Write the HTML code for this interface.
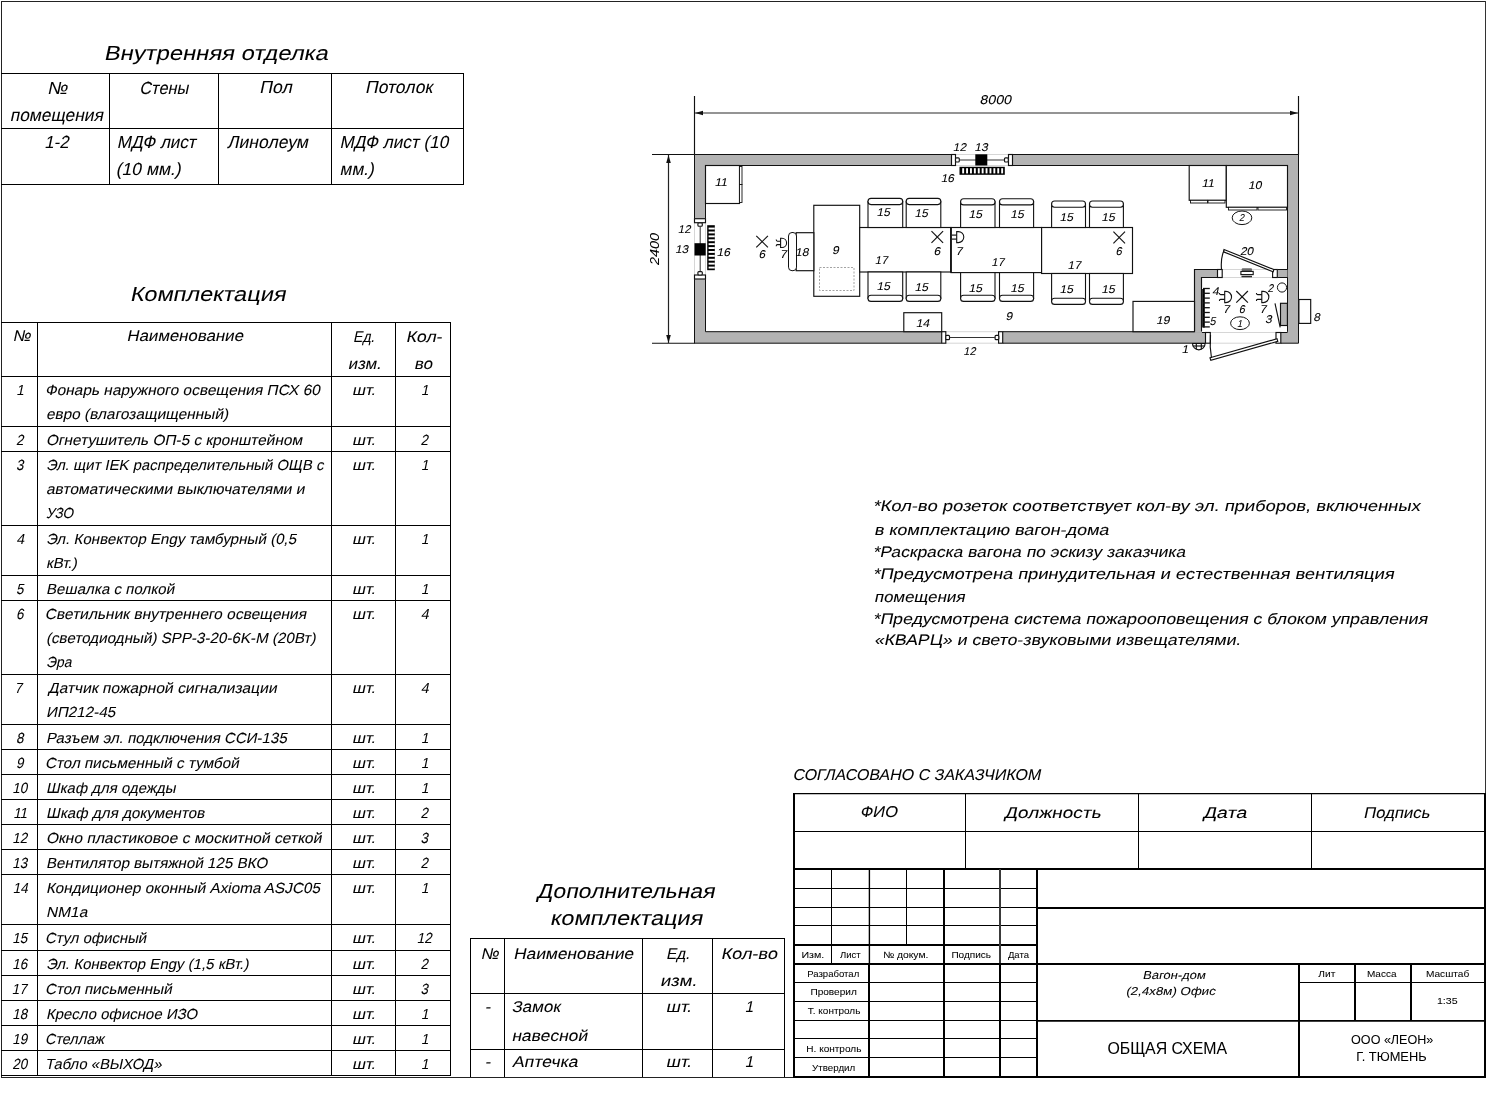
<!DOCTYPE html><html><head><meta charset="utf-8"><style>html,body{margin:0;padding:0;background:#fff;width:1487px;height:1109px;overflow:hidden}svg{display:block;will-change:transform}text{font-family:"Liberation Sans",sans-serif}</style></head><body>
<svg width="1487" height="1109" viewBox="0 0 1487 1109" shape-rendering="crispEdges">
<g shape-rendering="auto"><line x1="1" y1="1.5" x2="1486" y2="1.5" stroke="#222" stroke-width="1"/>
<line x1="1.5" y1="1" x2="1.5" y2="1078" stroke="#222" stroke-width="1"/>
<line x1="1485.5" y1="1" x2="1485.5" y2="794" stroke="#333" stroke-width="1"/>
<line x1="1485.0" y1="793" x2="1485.0" y2="1078" stroke="#000" stroke-width="2"/>
<line x1="1" y1="1077.5" x2="1486" y2="1077.5" stroke="#222" stroke-width="1"/>
<line x1="1" y1="73.5" x2="464" y2="73.5" stroke="#000" stroke-width="1"/>
<line x1="1" y1="128.5" x2="464" y2="128.5" stroke="#000" stroke-width="1"/>
<line x1="1" y1="184.5" x2="464" y2="184.5" stroke="#000" stroke-width="1"/>
<line x1="109.5" y1="73" x2="109.5" y2="185" stroke="#000" stroke-width="1"/>
<line x1="218.5" y1="73" x2="218.5" y2="185" stroke="#000" stroke-width="1"/>
<line x1="331.5" y1="73" x2="331.5" y2="185" stroke="#000" stroke-width="1"/>
<line x1="463.5" y1="73" x2="463.5" y2="185" stroke="#000" stroke-width="1"/>
<line x1="1" y1="322.5" x2="451" y2="322.5" stroke="#000" stroke-width="1"/>
<line x1="1" y1="376.5" x2="451" y2="376.5" stroke="#000" stroke-width="1"/>
<line x1="1" y1="426.5" x2="451" y2="426.5" stroke="#000" stroke-width="1"/>
<line x1="1" y1="451.5" x2="451" y2="451.5" stroke="#000" stroke-width="1"/>
<line x1="1" y1="525.5" x2="451" y2="525.5" stroke="#000" stroke-width="1"/>
<line x1="1" y1="575.5" x2="451" y2="575.5" stroke="#000" stroke-width="1"/>
<line x1="1" y1="600.5" x2="451" y2="600.5" stroke="#000" stroke-width="1"/>
<line x1="1" y1="674.5" x2="451" y2="674.5" stroke="#000" stroke-width="1"/>
<line x1="1" y1="724.5" x2="451" y2="724.5" stroke="#000" stroke-width="1"/>
<line x1="1" y1="749.5" x2="451" y2="749.5" stroke="#000" stroke-width="1"/>
<line x1="1" y1="774.5" x2="451" y2="774.5" stroke="#000" stroke-width="1"/>
<line x1="1" y1="799.5" x2="451" y2="799.5" stroke="#000" stroke-width="1"/>
<line x1="1" y1="824.5" x2="451" y2="824.5" stroke="#000" stroke-width="1"/>
<line x1="1" y1="849.5" x2="451" y2="849.5" stroke="#000" stroke-width="1"/>
<line x1="1" y1="874.5" x2="451" y2="874.5" stroke="#000" stroke-width="1"/>
<line x1="1" y1="924.5" x2="451" y2="924.5" stroke="#000" stroke-width="1"/>
<line x1="1" y1="950.5" x2="451" y2="950.5" stroke="#000" stroke-width="1"/>
<line x1="1" y1="975.5" x2="451" y2="975.5" stroke="#000" stroke-width="1"/>
<line x1="1" y1="1000.5" x2="451" y2="1000.5" stroke="#000" stroke-width="1"/>
<line x1="1" y1="1025.5" x2="451" y2="1025.5" stroke="#000" stroke-width="1"/>
<line x1="1" y1="1050.5" x2="451" y2="1050.5" stroke="#000" stroke-width="1"/>
<line x1="1" y1="1075.5" x2="451" y2="1075.5" stroke="#000" stroke-width="1"/>
<line x1="37.5" y1="322" x2="37.5" y2="1076" stroke="#000" stroke-width="1"/>
<line x1="331.5" y1="322" x2="331.5" y2="1076" stroke="#000" stroke-width="1"/>
<line x1="395.5" y1="322" x2="395.5" y2="1076" stroke="#000" stroke-width="1"/>
<line x1="450.5" y1="322" x2="450.5" y2="1076" stroke="#000" stroke-width="1"/>
<line x1="470" y1="938.5" x2="785" y2="938.5" stroke="#000" stroke-width="1"/>
<line x1="470" y1="993.5" x2="785" y2="993.5" stroke="#000" stroke-width="1"/>
<line x1="470" y1="1049.5" x2="785" y2="1049.5" stroke="#000" stroke-width="1"/>
<line x1="470.5" y1="938" x2="470.5" y2="1077" stroke="#000" stroke-width="1"/>
<line x1="504.5" y1="938" x2="504.5" y2="1077" stroke="#000" stroke-width="1"/>
<line x1="642.5" y1="938" x2="642.5" y2="1077" stroke="#000" stroke-width="1"/>
<line x1="712.5" y1="938" x2="712.5" y2="1077" stroke="#000" stroke-width="1"/>
<line x1="784.5" y1="938" x2="784.5" y2="1077" stroke="#000" stroke-width="1"/>
<line x1="793" y1="793.6" x2="1486" y2="793.6" stroke="#000" stroke-width="1.2"/>
<line x1="793" y1="831.5" x2="1486" y2="831.5" stroke="#000" stroke-width="1"/>
<line x1="793" y1="869.0" x2="1486" y2="869.0" stroke="#000" stroke-width="2"/>
<line x1="965.5" y1="793" x2="965.5" y2="869" stroke="#000" stroke-width="1"/>
<line x1="1138.5" y1="793" x2="1138.5" y2="869" stroke="#000" stroke-width="1"/>
<line x1="1311.5" y1="793" x2="1311.5" y2="869" stroke="#000" stroke-width="1"/>
<line x1="794.0" y1="793" x2="794.0" y2="1078" stroke="#000" stroke-width="2"/>
<line x1="793" y1="888.5" x2="1037" y2="888.5" stroke="#000" stroke-width="1"/>
<line x1="793" y1="907.5" x2="1037" y2="907.5" stroke="#000" stroke-width="1"/>
<line x1="793" y1="925.5" x2="1037" y2="925.5" stroke="#000" stroke-width="1"/>
<line x1="793" y1="945.0" x2="1037" y2="945.0" stroke="#000" stroke-width="2"/>
<line x1="793" y1="964.0" x2="1037" y2="964.0" stroke="#000" stroke-width="2"/>
<line x1="793" y1="982.5" x2="1037" y2="982.5" stroke="#000" stroke-width="1"/>
<line x1="793" y1="1001.5" x2="1037" y2="1001.5" stroke="#000" stroke-width="1"/>
<line x1="793" y1="1020.5" x2="1037" y2="1020.5" stroke="#000" stroke-width="1"/>
<line x1="793" y1="1038.5" x2="1037" y2="1038.5" stroke="#000" stroke-width="1"/>
<line x1="793" y1="1057.5" x2="1037" y2="1057.5" stroke="#000" stroke-width="1"/>
<line x1="831.5" y1="869" x2="831.5" y2="963" stroke="#000" stroke-width="1"/>
<line x1="869.4000000000001" y1="869" x2="869.4000000000001" y2="964" stroke="#000" stroke-width="1.4"/>
<line x1="869.0" y1="963" x2="869.0" y2="1077" stroke="#000" stroke-width="2"/>
<line x1="906.5" y1="869" x2="906.5" y2="945" stroke="#000" stroke-width="1"/>
<line x1="944.0" y1="869" x2="944.0" y2="1077" stroke="#000" stroke-width="2"/>
<line x1="1000.0" y1="869" x2="1000.0" y2="964" stroke="#3a3a3a" stroke-width="2"/>
<line x1="1000.0" y1="963" x2="1000.0" y2="1077" stroke="#000" stroke-width="2"/>
<line x1="1037.0" y1="869" x2="1037.0" y2="1077" stroke="#000" stroke-width="2"/>
<line x1="793" y1="1077.0" x2="1486" y2="1077.0" stroke="#000" stroke-width="2"/>
<line x1="1036" y1="908.0" x2="1486" y2="908.0" stroke="#000" stroke-width="2"/>
<line x1="1036" y1="964.0" x2="1486" y2="964.0" stroke="#000" stroke-width="2"/>
<line x1="1036" y1="1020.85" x2="1486" y2="1020.85" stroke="#000" stroke-width="1.7"/>
<line x1="1299.0" y1="963" x2="1299.0" y2="1077" stroke="#000" stroke-width="2"/>
<line x1="1355.0" y1="963" x2="1355.0" y2="1020" stroke="#000" stroke-width="2"/>
<line x1="1411.0" y1="963" x2="1411.0" y2="1020" stroke="#000" stroke-width="2"/>
<line x1="1298" y1="982.5" x2="1486" y2="982.5" stroke="#000" stroke-width="1"/>
<line x1="694.5" y1="96" x2="694.5" y2="155" stroke="#111" stroke-width="1.15"/>
<line x1="1298.5" y1="96" x2="1298.5" y2="155" stroke="#111" stroke-width="1.15"/>
<line x1="695" y1="113" x2="1298" y2="113" stroke="#707070" stroke-width="1.6"/>
<path d="M695,113 L703,110.7 L703,115.3 Z" fill="#111" stroke="none" stroke-width="1" />
<path d="M1298,113 L1290,110.7 L1290,115.3 Z" fill="#111" stroke="none" stroke-width="1" />
<line x1="652" y1="154.5" x2="695" y2="154.5" stroke="#111" stroke-width="1.15"/>
<line x1="652" y1="343.2" x2="695" y2="343.2" stroke="#111" stroke-width="1.15"/>
<line x1="668.5" y1="155" x2="668.5" y2="343" stroke="#222" stroke-width="1.2"/>
<path d="M668.5,155 L666.2,163 L670.8,163 Z" fill="#111" stroke="none" stroke-width="1" />
<path d="M668.5,343 L666.2,335 L670.8,335 Z" fill="#111" stroke="none" stroke-width="1" />
<text x="0" y="0" font-size="13.4" style="font-style:italic" stroke="#000" stroke-width="0.06" transform="translate(659.3,248.9) rotate(-90)" text-anchor="middle" textLength="32" lengthAdjust="spacingAndGlyphs">2400</text>
<path d="M694.5,154.5 H1298.5 V343.2 H694.5 Z M705.5,165.5 H1287.5 V331.7 H705.5 Z" fill="#b3b3b3" stroke="#111" stroke-width="1" fill-rule="evenodd"/>
<rect x="1194.5" y="269.5" width="93" height="8" fill="#b3b3b3" stroke="none" stroke-width="1" />
<rect x="1194.5" y="269.5" width="7" height="63" fill="#b3b3b3" stroke="none" stroke-width="1" />
<path d="M1194.5,331.7 V269.5 H1287.5" fill="none" stroke="#111" stroke-width="1.15" />
<path d="M1201.5,331.7 V277.5 H1287.5" fill="none" stroke="#111" stroke-width="1.15" />
<rect x="1202" y="331" width="85" height="1.2" fill="#fff" stroke="none" stroke-width="1" />
<rect x="1194" y="331" width="7.5" height="1.5" fill="#b3b3b3" stroke="none" stroke-width="1" />
<line x1="1202" y1="332.5" x2="1287.5" y2="332.5" stroke="#111" stroke-width="1.15"/>
<rect x="951" y="153" width="62" height="13.5" fill="#fff" stroke="none" stroke-width="1" />
<line x1="955" y1="154.5" x2="1009" y2="154.5" stroke="#bbb" stroke-width="0.6"/>
<line x1="955" y1="165.5" x2="1009" y2="165.5" stroke="#bbb" stroke-width="0.6"/>
<rect x="951.5" y="154.5" width="4" height="11" fill="#fff" stroke="#111" stroke-width="1.15" />
<rect x="1008.5" y="154.5" width="4" height="11" fill="#fff" stroke="#111" stroke-width="1.15" />
<rect x="955.5" y="157.8" width="3.8" height="4.2" fill="#fff" stroke="#111" stroke-width="1.15" rx="1"/>
<rect x="1004.5" y="157.8" width="3.8" height="4.2" fill="#fff" stroke="#111" stroke-width="1.15" rx="1"/>
<line x1="959.5" y1="160" x2="1004.5" y2="160" stroke="#333" stroke-width="1"/>
<rect x="975.3" y="154.3" width="12" height="11.2" fill="#000" stroke="none" stroke-width="1" />
<rect x="959.5" y="166.8" width="45.3" height="8" fill="#000" stroke="none" stroke-width="1" />
<rect x="962.2" y="168.2" width="1.9" height="5.2" fill="#fff" stroke="none" stroke-width="1" />
<rect x="966.1" y="168.2" width="1.9" height="5.2" fill="#fff" stroke="none" stroke-width="1" />
<rect x="970.0" y="168.2" width="1.9" height="5.2" fill="#fff" stroke="none" stroke-width="1" />
<rect x="973.9000000000001" y="168.2" width="1.9" height="5.2" fill="#fff" stroke="none" stroke-width="1" />
<rect x="977.8000000000001" y="168.2" width="1.9" height="5.2" fill="#fff" stroke="none" stroke-width="1" />
<rect x="981.7" y="168.2" width="1.9" height="5.2" fill="#fff" stroke="none" stroke-width="1" />
<rect x="985.6" y="168.2" width="1.9" height="5.2" fill="#fff" stroke="none" stroke-width="1" />
<rect x="989.5" y="168.2" width="1.9" height="5.2" fill="#fff" stroke="none" stroke-width="1" />
<rect x="993.4000000000001" y="168.2" width="1.9" height="5.2" fill="#fff" stroke="none" stroke-width="1" />
<rect x="997.3000000000001" y="168.2" width="1.9" height="5.2" fill="#fff" stroke="none" stroke-width="1" />
<rect x="1001.2" y="168.2" width="1.9" height="5.2" fill="#fff" stroke="none" stroke-width="1" />
<rect x="693" y="218.6" width="14" height="60.5" fill="#fff" stroke="none" stroke-width="1" />
<line x1="694.5" y1="222" x2="694.5" y2="276" stroke="#bbb" stroke-width="0.6"/>
<line x1="705.5" y1="222" x2="705.5" y2="276" stroke="#bbb" stroke-width="0.6"/>
<rect x="694.5" y="218.7" width="11" height="4" fill="#fff" stroke="#111" stroke-width="1.15" />
<rect x="694.5" y="275" width="11" height="4" fill="#fff" stroke="#111" stroke-width="1.15" />
<rect x="697.9" y="222.8" width="4.4" height="3.4" fill="#fff" stroke="#111" stroke-width="1.15" rx="1"/>
<rect x="697.9" y="271.6" width="4.4" height="3.4" fill="#fff" stroke="#111" stroke-width="1.15" rx="1"/>
<line x1="700.2" y1="226.5" x2="700.2" y2="271.5" stroke="#333" stroke-width="1"/>
<rect x="694.5" y="243.2" width="11.2" height="12.3" fill="#000" stroke="none" stroke-width="1" />
<rect x="707.2" y="225.2" width="7.6" height="45" fill="#000" stroke="none" stroke-width="1" />
<rect x="708.6" y="227.6" width="6.2" height="1.9" fill="#fff" stroke="none" stroke-width="1" />
<rect x="708.6" y="231.5" width="6.2" height="1.9" fill="#fff" stroke="none" stroke-width="1" />
<rect x="708.6" y="235.4" width="6.2" height="1.9" fill="#fff" stroke="none" stroke-width="1" />
<rect x="708.6" y="239.29999999999998" width="6.2" height="1.9" fill="#fff" stroke="none" stroke-width="1" />
<rect x="708.6" y="243.2" width="6.2" height="1.9" fill="#fff" stroke="none" stroke-width="1" />
<rect x="708.6" y="247.1" width="6.2" height="1.9" fill="#fff" stroke="none" stroke-width="1" />
<rect x="708.6" y="251.0" width="6.2" height="1.9" fill="#fff" stroke="none" stroke-width="1" />
<rect x="708.6" y="254.9" width="6.2" height="1.9" fill="#fff" stroke="none" stroke-width="1" />
<rect x="708.6" y="258.8" width="6.2" height="1.9" fill="#fff" stroke="none" stroke-width="1" />
<rect x="708.6" y="262.7" width="6.2" height="1.9" fill="#fff" stroke="none" stroke-width="1" />
<rect x="708.6" y="266.6" width="6.2" height="1.9" fill="#fff" stroke="none" stroke-width="1" />
<rect x="941.5" y="331" width="61.5" height="13.5" fill="#fff" stroke="none" stroke-width="1" />
<line x1="945" y1="331.7" x2="999" y2="331.7" stroke="#bbb" stroke-width="0.6"/>
<line x1="945" y1="343.2" x2="999" y2="343.2" stroke="#bbb" stroke-width="0.6"/>
<rect x="941.7" y="331.7" width="4.1" height="11.5" fill="#fff" stroke="#111" stroke-width="1.15" />
<rect x="998.6" y="331.7" width="4.1" height="11.5" fill="#fff" stroke="#111" stroke-width="1.15" />
<rect x="945.8" y="335.3" width="3.7" height="4.4" fill="#fff" stroke="#111" stroke-width="1.15" rx="1"/>
<rect x="995.1" y="335.3" width="3.7" height="4.4" fill="#fff" stroke="#111" stroke-width="1.15" rx="1"/>
<line x1="949.5" y1="337.5" x2="995" y2="337.5" stroke="#333" stroke-width="1"/>
<rect x="1217.5" y="268.5" width="60" height="10" fill="#fff" stroke="none" stroke-width="1" />
<line x1="1222" y1="269.5" x2="1273" y2="269.5" stroke="#bbb" stroke-width="0.6"/>
<line x1="1222" y1="277.5" x2="1273" y2="277.5" stroke="#bbb" stroke-width="0.6"/>
<rect x="1217.5" y="269.5" width="4.7" height="8" fill="#fff" stroke="#111" stroke-width="1.15" />
<rect x="1272.6" y="269.5" width="4.7" height="8" fill="#fff" stroke="#111" stroke-width="1.15" />
<path d="M1224,249.5 L1273.8,269.5 L1273.2,271.8 L1223.5,251.8 Z" fill="#fff" stroke="#111" stroke-width="1.15" />
<path d="M1224,250.5 Q1220.5,258 1221.5,269.5" fill="none" stroke="#111" stroke-width="1.15" />
<rect x="1241.7" y="268.2" width="10.3" height="3" fill="#6a6a6a" stroke="none" stroke-width="1" rx="1"/>
<rect x="1240.9" y="271.4" width="12.3" height="3.2" fill="#fff" stroke="#111" stroke-width="1.1" />
<rect x="1241.5" y="275.8" width="10.5" height="1.5" fill="#2a2a2a" stroke="none" stroke-width="1" />
<rect x="1205.2" y="331" width="75.6" height="13.5" fill="#fff" stroke="none" stroke-width="1" />
<line x1="1210" y1="332.5" x2="1276" y2="332.5" stroke="#bbb" stroke-width="0.6"/>
<line x1="1210" y1="343.2" x2="1276" y2="343.2" stroke="#bbb" stroke-width="0.6"/>
<rect x="1205.5" y="332.5" width="4.8" height="10.7" fill="#fff" stroke="#111" stroke-width="1.15" />
<rect x="1276" y="332.5" width="4.8" height="10.7" fill="#fff" stroke="#111" stroke-width="1.15" />
<path d="M1210,357.8 L1277,338.8 L1277.8,341.3 L1210.8,360.2 Z" fill="#fff" stroke="#111" stroke-width="1.15" />
<path d="M1210.5,335 Q1209.5,347 1211.5,358" fill="none" stroke="#111" stroke-width="1.15" />
<path d="M1192.5,343.5 A6.3,6.3 0 0 0 1205.1,343.5 Z" fill="#fff" stroke="#111" stroke-width="1.15" />
<line x1="1196.3" y1="343.5" x2="1196.3" y2="349.2" stroke="#111" stroke-width="1.15"/>
<line x1="1201.3" y1="343.5" x2="1201.3" y2="349.2" stroke="#111" stroke-width="1.15"/>
<line x1="1192.8" y1="346" x2="1204.8" y2="346" stroke="#111" stroke-width="1.15"/>
<rect x="705.5" y="165.5" width="34" height="38" fill="#fff" stroke="#111" stroke-width="1.15" />
<rect x="739.5" y="166.5" width="2.5" height="18" fill="#fff" stroke="#111" stroke-width="0.9" />
<rect x="739.5" y="184.5" width="2.5" height="18" fill="#fff" stroke="#111" stroke-width="0.9" />
<rect x="813.8" y="205.3" width="45.9" height="91" fill="#fff" stroke="#111" stroke-width="1.15" />
<rect x="819.5" y="267.5" width="34.5" height="23" fill="none" stroke="#999" stroke-width="0.9" stroke-dasharray="2,1.5"/>
<rect x="796.2" y="232.7" width="17.6" height="38" fill="#fff" stroke="#111" stroke-width="1.15" />
<rect x="788.5" y="232.5" width="8" height="38.2" fill="#fff" stroke="#111" stroke-width="1" rx="3.5"/>
<rect x="859.7" y="227.5" width="91.3" height="44.5" fill="#fff" stroke="#111" stroke-width="1.15" />
<rect x="951" y="227.5" width="90.6" height="45.1" fill="#fff" stroke="#111" stroke-width="1.15" />
<rect x="1041.6" y="227.5" width="90.9" height="46" fill="#fff" stroke="#111" stroke-width="1.15" />
<line x1="951" y1="227.5" x2="951" y2="272.6" stroke="#111" stroke-width="1.6"/>
<rect x="868" y="201.4" width="34.700000000000045" height="26.099999999999994" fill="#fff" stroke="#111" stroke-width="1.1" />
<rect x="868" y="198.4" width="34.700000000000045" height="6.2" fill="#fff" stroke="#111" stroke-width="1.1" rx="3"/>
<rect x="906.2" y="201.4" width="34.59999999999991" height="26.099999999999994" fill="#fff" stroke="#111" stroke-width="1.1" />
<rect x="906.2" y="198.4" width="34.59999999999991" height="6.2" fill="#fff" stroke="#111" stroke-width="1.1" rx="3"/>
<rect x="960.6" y="201.7" width="34.39999999999998" height="25.80000000000001" fill="#fff" stroke="#111" stroke-width="1.1" />
<rect x="960.6" y="198.7" width="34.39999999999998" height="6.2" fill="#fff" stroke="#111" stroke-width="1.1" rx="3"/>
<rect x="999.5" y="201.7" width="34.09999999999991" height="25.80000000000001" fill="#fff" stroke="#111" stroke-width="1.1" />
<rect x="999.5" y="198.7" width="34.09999999999991" height="6.2" fill="#fff" stroke="#111" stroke-width="1.1" rx="3"/>
<rect x="1051.6" y="204" width="33.90000000000009" height="23.5" fill="#fff" stroke="#111" stroke-width="1.1" />
<rect x="1051.6" y="201" width="33.90000000000009" height="6.2" fill="#fff" stroke="#111" stroke-width="1.1" rx="3"/>
<rect x="1089.5" y="204" width="33.90000000000009" height="23.5" fill="#fff" stroke="#111" stroke-width="1.1" />
<rect x="1089.5" y="201" width="33.90000000000009" height="6.2" fill="#fff" stroke="#111" stroke-width="1.1" rx="3"/>
<rect x="868" y="272" width="34.700000000000045" height="26.399999999999977" fill="#fff" stroke="#111" stroke-width="1.1" />
<rect x="868" y="295.2" width="34.700000000000045" height="6.2" fill="#fff" stroke="#111" stroke-width="1.1" rx="3"/>
<rect x="906.2" y="272" width="34.59999999999991" height="26.399999999999977" fill="#fff" stroke="#111" stroke-width="1.1" />
<rect x="906.2" y="295.2" width="34.59999999999991" height="6.2" fill="#fff" stroke="#111" stroke-width="1.1" rx="3"/>
<rect x="960.6" y="272.6" width="34.39999999999998" height="25.799999999999955" fill="#fff" stroke="#111" stroke-width="1.1" />
<rect x="960.6" y="295.2" width="34.39999999999998" height="6.2" fill="#fff" stroke="#111" stroke-width="1.1" rx="3"/>
<rect x="999.5" y="272.6" width="34.09999999999991" height="25.799999999999955" fill="#fff" stroke="#111" stroke-width="1.1" />
<rect x="999.5" y="295.2" width="34.09999999999991" height="6.2" fill="#fff" stroke="#111" stroke-width="1.1" rx="3"/>
<rect x="1051.6" y="273.5" width="33.90000000000009" height="27.899999999999977" fill="#fff" stroke="#111" stroke-width="1.1" />
<rect x="1051.6" y="298.2" width="33.90000000000009" height="6.2" fill="#fff" stroke="#111" stroke-width="1.1" rx="3"/>
<rect x="1089.5" y="273.5" width="33.90000000000009" height="27.899999999999977" fill="#fff" stroke="#111" stroke-width="1.1" />
<rect x="1089.5" y="298.2" width="33.90000000000009" height="6.2" fill="#fff" stroke="#111" stroke-width="1.1" rx="3"/>
<rect x="903.8" y="312.7" width="37.9" height="19" fill="#fff" stroke="#111" stroke-width="1.15" />
<rect x="1133" y="301.4" width="61.5" height="30.3" fill="#fff" stroke="#111" stroke-width="1.15" />
<rect x="1189.2" y="165.5" width="37.1" height="34.8" fill="#fff" stroke="#111" stroke-width="1.15" />
<rect x="1190.5" y="200.3" width="17" height="2.7" fill="#fff" stroke="#111" stroke-width="0.9" />
<rect x="1208" y="200.3" width="17" height="2.7" fill="#fff" stroke="#111" stroke-width="0.9" />
<rect x="1226.3" y="165.5" width="61.2" height="41.8" fill="#fff" stroke="#111" stroke-width="1.15" />
<rect x="1228.5" y="207.3" width="28.5" height="2.7" fill="#fff" stroke="#111" stroke-width="0.9" />
<rect x="1258" y="207.3" width="28.5" height="2.7" fill="#fff" stroke="#111" stroke-width="0.9" />
<ellipse cx="1242" cy="217.8" rx="9.8" ry="6.8" fill="none" stroke="#111" stroke-width="1"/>
<line x1="756.3000000000001" y1="235.79999999999998" x2="767.9" y2="247.4" stroke="#111" stroke-width="1.15"/>
<line x1="756.3000000000001" y1="247.4" x2="767.9" y2="235.79999999999998" stroke="#111" stroke-width="1.15"/>
<line x1="931.5" y1="231.2" x2="943.0999999999999" y2="242.8" stroke="#111" stroke-width="1.15"/>
<line x1="931.5" y1="242.8" x2="943.0999999999999" y2="231.2" stroke="#111" stroke-width="1.15"/>
<line x1="1113.4" y1="231.7" x2="1125.0" y2="243.3" stroke="#111" stroke-width="1.15"/>
<line x1="1113.4" y1="243.3" x2="1125.0" y2="231.7" stroke="#111" stroke-width="1.15"/>
<line x1="1236.3" y1="291.0" x2="1247.8999999999999" y2="302.6" stroke="#111" stroke-width="1.15"/>
<line x1="1236.3" y1="302.6" x2="1247.8999999999999" y2="291.0" stroke="#111" stroke-width="1.15"/>
<path d="M780.6,238.3 H782.0 A4.6,4.6 0 0 1 782.0,247.5 H780.6 Z" fill="#fff" stroke="#111" stroke-width="1.1" />
<path d="M780.6,241.20000000000002 H777.4000000000001 Q776.2,241.20000000000002 776.2,239.60000000000002" fill="none" stroke="#111" stroke-width="1.1" />
<path d="M780.6,244.6 H777.4000000000001 Q776.2,244.6 776.2,246.2" fill="none" stroke="#111" stroke-width="1.1" />
<path d="M956.7,231.6 H958.3000000000001 A5.5,5.5 0 0 1 958.3000000000001,242.6 H956.7 Z" fill="#fff" stroke="#111" stroke-width="1.1" />
<line x1="951.9000000000001" y1="235.1" x2="956.7" y2="235.1" stroke="#111" stroke-width="1.15"/>
<line x1="951.9000000000001" y1="239.1" x2="956.7" y2="239.1" stroke="#111" stroke-width="1.15"/>
<path d="M1224.7,291.35 H1225.9 A5.65,5.65 0 0 1 1225.9,302.65 H1224.7 Z" fill="#fff" stroke="#111" stroke-width="1.1" />
<path d="M1224.7,294.6 H1220.6000000000001 Q1219.4,294.6 1219.4,293.0" fill="none" stroke="#111" stroke-width="1.1" />
<path d="M1224.7,299.4 H1220.6000000000001 Q1219.4,299.4 1219.4,301.0" fill="none" stroke="#111" stroke-width="1.1" />
<path d="M1261.8,291.35 H1263.2 A5.65,5.65 0 0 1 1263.2,302.65 H1261.8 Z" fill="#fff" stroke="#111" stroke-width="1.1" />
<path d="M1261.8,294.6 H1257.6 Q1256.3999999999999,294.6 1256.3999999999999,293.0" fill="none" stroke="#111" stroke-width="1.1" />
<path d="M1261.8,299.4 H1257.6 Q1256.3999999999999,299.4 1256.3999999999999,301.0" fill="none" stroke="#111" stroke-width="1.1" />
<rect x="1202.3" y="287.5" width="7.6" height="41" fill="#fff" stroke="none" stroke-width="1" />
<rect x="1202.2" y="289" width="2.6" height="38.5" fill="#000" stroke="none" stroke-width="1" />
<line x1="1203" y1="288.5" x2="1209.8" y2="288.5" stroke="#111" stroke-width="1.3"/>
<line x1="1203" y1="293.3" x2="1209.8" y2="293.3" stroke="#111" stroke-width="1.3"/>
<line x1="1203" y1="298.1" x2="1209.8" y2="298.1" stroke="#111" stroke-width="1.3"/>
<line x1="1203" y1="302.9" x2="1209.8" y2="302.9" stroke="#111" stroke-width="1.3"/>
<line x1="1203" y1="307.7" x2="1209.8" y2="307.7" stroke="#111" stroke-width="1.3"/>
<line x1="1203" y1="312.5" x2="1209.8" y2="312.5" stroke="#111" stroke-width="1.3"/>
<line x1="1203" y1="317.3" x2="1209.8" y2="317.3" stroke="#111" stroke-width="1.3"/>
<line x1="1203" y1="322.1" x2="1209.8" y2="322.1" stroke="#111" stroke-width="1.3"/>
<line x1="1203" y1="326.9" x2="1209.8" y2="326.9" stroke="#111" stroke-width="1.3"/>
<circle cx="1282" cy="287.5" r="4.6" fill="#fff" stroke="#111" stroke-width="1"/>
<rect x="1280.5" y="303.3" width="6.9" height="22.2" fill="#b3b3b3" stroke="#111" stroke-width="1.15" />
<line x1="1275" y1="303.3" x2="1280.2" y2="327.3" stroke="#111" stroke-width="1.15"/>
<rect x="1298.9" y="299.5" width="11.8" height="23.9" fill="#fff" stroke="#111" stroke-width="1.15" />
<ellipse cx="1240" cy="323.2" rx="9.4" ry="6.4" fill="none" stroke="#111" stroke-width="1"/></g>
<text id="t1" transform="translate(103.66,59.6) skewX(-12)" font-size="20.3" fill="#000" stroke="#000" stroke-width="0.06" textLength="224.07" lengthAdjust="spacingAndGlyphs">Внутренняя отделка</text>
<text id="t2" transform="translate(46.91,93.8) skewX(-12)" font-size="17.5" fill="#000" stroke="#000" stroke-width="0.06" textLength="20.28" lengthAdjust="spacingAndGlyphs">№</text>
<text id="t3" transform="translate(9.71,120.7) skewX(-12)" font-size="17.5" fill="#000" stroke="#000" stroke-width="0.06" textLength="93.29" lengthAdjust="spacingAndGlyphs">помещения</text>
<text id="t4" transform="translate(139.33,93.9) skewX(-12)" font-size="17.5" fill="#000" stroke="#000" stroke-width="0.06" textLength="48.92" lengthAdjust="spacingAndGlyphs">Стены</text>
<text id="t5" transform="translate(259.19,93.4) skewX(-12)" font-size="17.5" fill="#000" stroke="#000" stroke-width="0.06" textLength="32.53" lengthAdjust="spacingAndGlyphs">Пол</text>
<text id="t6" transform="translate(365.00,93.4) skewX(-12)" font-size="17.5" fill="#000" stroke="#000" stroke-width="0.06" textLength="67.16" lengthAdjust="spacingAndGlyphs">Потолок</text>
<text id="t7" transform="translate(44.23,148.2) skewX(-12)" font-size="17.5" fill="#000" stroke="#000" stroke-width="0.06" textLength="24.48" lengthAdjust="spacingAndGlyphs">1-2</text>
<text id="t8" transform="translate(116.83,148.2) skewX(-12)" font-size="17.5" fill="#000" stroke="#000" stroke-width="0.06" textLength="78.86" lengthAdjust="spacingAndGlyphs">МДФ лист</text>
<text id="t9" transform="translate(115.80,175.4) skewX(-12)" font-size="17.5" fill="#000" stroke="#000" stroke-width="0.06" textLength="64.88" lengthAdjust="spacingAndGlyphs">(10 мм.)</text>
<text id="t10" transform="translate(227.00,148.3) skewX(-12)" font-size="17.5" fill="#000" stroke="#000" stroke-width="0.06" textLength="80.86" lengthAdjust="spacingAndGlyphs">Линолеум</text>
<text id="t11" transform="translate(339.62,148.3) skewX(-12)" font-size="17.5" fill="#000" stroke="#000" stroke-width="0.06" textLength="108.56" lengthAdjust="spacingAndGlyphs">МДФ лист (10</text>
<text id="t12" transform="translate(339.62,175.4) skewX(-12)" font-size="17.5" fill="#000" stroke="#000" stroke-width="0.06" textLength="34.02" lengthAdjust="spacingAndGlyphs">мм.)</text>
<text id="t13" transform="translate(129.68,300.8) skewX(-12)" font-size="20.3" fill="#000" stroke="#000" stroke-width="0.06" textLength="155.80" lengthAdjust="spacingAndGlyphs">Комплектация</text>
<text id="t14" transform="translate(12.53,341.3) skewX(-12)" font-size="15.6" fill="#000" stroke="#000" stroke-width="0.06" textLength="18.07" lengthAdjust="spacingAndGlyphs">№</text>
<text id="t15" transform="translate(126.52,341.3) skewX(-12)" font-size="15.6" fill="#000" stroke="#000" stroke-width="0.06" textLength="116.49" lengthAdjust="spacingAndGlyphs">Наименование</text>
<text id="t16" transform="translate(353.10,341.6) skewX(-12)" font-size="15.6" fill="#000" stroke="#000" stroke-width="0.06" textLength="21.35" lengthAdjust="spacingAndGlyphs">Ед.</text>
<text id="t17" transform="translate(347.83,368.7) skewX(-12)" font-size="15.6" fill="#000" stroke="#000" stroke-width="0.06" textLength="33.05" lengthAdjust="spacingAndGlyphs">изм.</text>
<text id="t18" transform="translate(405.76,341.6) skewX(-12)" font-size="15.6" fill="#000" stroke="#000" stroke-width="0.06" textLength="36.00" lengthAdjust="spacingAndGlyphs">Кол-</text>
<text id="t19" transform="translate(414.03,368.7) skewX(-12)" font-size="15.6" fill="#000" stroke="#000" stroke-width="0.06" textLength="18.12" lengthAdjust="spacingAndGlyphs">во</text>
<text id="t20" transform="translate(16.36,394.5) skewX(-12)" font-size="14.6" fill="#000" stroke="#000" stroke-width="0.06" textLength="7.48" lengthAdjust="spacingAndGlyphs">1</text>
<text id="t21" transform="translate(44.88,394.5) skewX(-12)" font-size="14.6" fill="#000" stroke="#000" stroke-width="0.06" textLength="274.99" lengthAdjust="spacingAndGlyphs">Фонарь наружного освещения ПСХ 60</text>
<text id="t22" transform="translate(45.94,418.9) skewX(-12)" font-size="14.6" fill="#000" stroke="#000" stroke-width="0.06" textLength="182.21" lengthAdjust="spacingAndGlyphs">евро (влагозащищенный)</text>
<text id="t23" transform="translate(351.98,394.5) skewX(-12)" font-size="14.6" fill="#000" stroke="#000" stroke-width="0.06" textLength="23.24" lengthAdjust="spacingAndGlyphs">шт.</text>
<text id="t24" transform="translate(420.96,394.5) skewX(-12)" font-size="14.6" fill="#000" stroke="#000" stroke-width="0.06" textLength="7.48" lengthAdjust="spacingAndGlyphs">1</text>
<text id="t25" transform="translate(15.90,444.5) skewX(-12)" font-size="14.6" fill="#000" stroke="#000" stroke-width="0.06" textLength="7.48" lengthAdjust="spacingAndGlyphs">2</text>
<text id="t26" transform="translate(45.94,444.5) skewX(-12)" font-size="14.6" fill="#000" stroke="#000" stroke-width="0.06" textLength="256.20" lengthAdjust="spacingAndGlyphs">Огнетушитель ОП-5 с кронштейном</text>
<text id="t27" transform="translate(351.98,444.5) skewX(-12)" font-size="14.6" fill="#000" stroke="#000" stroke-width="0.06" textLength="23.24" lengthAdjust="spacingAndGlyphs">шт.</text>
<text id="t28" transform="translate(420.50,444.5) skewX(-12)" font-size="14.6" fill="#000" stroke="#000" stroke-width="0.06" textLength="7.48" lengthAdjust="spacingAndGlyphs">2</text>
<text id="t29" transform="translate(15.90,469.5) skewX(-12)" font-size="14.6" fill="#000" stroke="#000" stroke-width="0.06" textLength="7.48" lengthAdjust="spacingAndGlyphs">3</text>
<text id="t30" transform="translate(45.98,469.5) skewX(-12)" font-size="14.6" fill="#000" stroke="#000" stroke-width="0.06" textLength="277.48" lengthAdjust="spacingAndGlyphs">Эл. щит IEK распределительный ОЩВ с</text>
<text id="t31" transform="translate(45.94,493.9) skewX(-12)" font-size="14.6" fill="#000" stroke="#000" stroke-width="0.06" textLength="258.57" lengthAdjust="spacingAndGlyphs">автоматическими выключателями и</text>
<text id="t32" transform="translate(46.06,518.3) skewX(-12)" font-size="14.6" fill="#000" stroke="#000" stroke-width="0.06" textLength="27.14" lengthAdjust="spacingAndGlyphs">УЗО</text>
<text id="t33" transform="translate(351.98,469.5) skewX(-12)" font-size="14.6" fill="#000" stroke="#000" stroke-width="0.06" textLength="23.24" lengthAdjust="spacingAndGlyphs">шт.</text>
<text id="t34" transform="translate(420.96,469.5) skewX(-12)" font-size="14.6" fill="#000" stroke="#000" stroke-width="0.06" textLength="7.48" lengthAdjust="spacingAndGlyphs">1</text>
<text id="t35" transform="translate(16.13,543.5) skewX(-12)" font-size="14.6" fill="#000" stroke="#000" stroke-width="0.06" textLength="7.90" lengthAdjust="spacingAndGlyphs">4</text>
<text id="t36" transform="translate(45.96,543.5) skewX(-12)" font-size="14.6" fill="#000" stroke="#000" stroke-width="0.06" textLength="250.27" lengthAdjust="spacingAndGlyphs">Эл. Конвектор Engy тамбурный (0,5</text>
<text id="t37" transform="translate(45.96,567.9) skewX(-12)" font-size="14.6" fill="#000" stroke="#000" stroke-width="0.06" textLength="30.93" lengthAdjust="spacingAndGlyphs">кВт.)</text>
<text id="t38" transform="translate(351.98,543.5) skewX(-12)" font-size="14.6" fill="#000" stroke="#000" stroke-width="0.06" textLength="23.24" lengthAdjust="spacingAndGlyphs">шт.</text>
<text id="t39" transform="translate(420.96,543.5) skewX(-12)" font-size="14.6" fill="#000" stroke="#000" stroke-width="0.06" textLength="7.48" lengthAdjust="spacingAndGlyphs">1</text>
<text id="t40" transform="translate(15.90,593.5) skewX(-12)" font-size="14.6" fill="#000" stroke="#000" stroke-width="0.06" textLength="7.48" lengthAdjust="spacingAndGlyphs">5</text>
<text id="t41" transform="translate(45.96,593.5) skewX(-12)" font-size="14.6" fill="#000" stroke="#000" stroke-width="0.06" textLength="128.21" lengthAdjust="spacingAndGlyphs">Вешалка с полкой</text>
<text id="t42" transform="translate(351.98,593.5) skewX(-12)" font-size="14.6" fill="#000" stroke="#000" stroke-width="0.06" textLength="23.24" lengthAdjust="spacingAndGlyphs">шт.</text>
<text id="t43" transform="translate(420.96,593.5) skewX(-12)" font-size="14.6" fill="#000" stroke="#000" stroke-width="0.06" textLength="7.48" lengthAdjust="spacingAndGlyphs">1</text>
<text id="t44" transform="translate(15.90,618.5) skewX(-12)" font-size="14.6" fill="#000" stroke="#000" stroke-width="0.06" textLength="7.48" lengthAdjust="spacingAndGlyphs">6</text>
<text id="t45" transform="translate(44.87,618.5) skewX(-12)" font-size="14.6" fill="#000" stroke="#000" stroke-width="0.06" textLength="261.28" lengthAdjust="spacingAndGlyphs">Светильник внутреннего освещения</text>
<text id="t46" transform="translate(45.96,642.9) skewX(-12)" font-size="14.6" fill="#000" stroke="#000" stroke-width="0.06" textLength="269.63" lengthAdjust="spacingAndGlyphs">(светодиодный) SPP-3-20-6K-M (20Вт)</text>
<text id="t47" transform="translate(46.05,667.3) skewX(-12)" font-size="14.6" fill="#000" stroke="#000" stroke-width="0.06" textLength="25.48" lengthAdjust="spacingAndGlyphs">Эра</text>
<text id="t48" transform="translate(351.98,618.5) skewX(-12)" font-size="14.6" fill="#000" stroke="#000" stroke-width="0.06" textLength="23.24" lengthAdjust="spacingAndGlyphs">шт.</text>
<text id="t49" transform="translate(420.73,618.5) skewX(-12)" font-size="14.6" fill="#000" stroke="#000" stroke-width="0.06" textLength="7.90" lengthAdjust="spacingAndGlyphs">4</text>
<text id="t50" transform="translate(14.52,692.5) skewX(-12)" font-size="14.6" fill="#000" stroke="#000" stroke-width="0.06" textLength="7.48" lengthAdjust="spacingAndGlyphs">7</text>
<text id="t51" transform="translate(48.07,692.5) skewX(-12)" font-size="14.6" fill="#000" stroke="#000" stroke-width="0.06" textLength="228.59" lengthAdjust="spacingAndGlyphs">Датчик пожарной сигнализации</text>
<text id="t52" transform="translate(45.95,716.9) skewX(-12)" font-size="14.6" fill="#000" stroke="#000" stroke-width="0.06" textLength="69.41" lengthAdjust="spacingAndGlyphs">ИП212-45</text>
<text id="t53" transform="translate(351.98,692.5) skewX(-12)" font-size="14.6" fill="#000" stroke="#000" stroke-width="0.06" textLength="23.24" lengthAdjust="spacingAndGlyphs">шт.</text>
<text id="t54" transform="translate(420.73,692.5) skewX(-12)" font-size="14.6" fill="#000" stroke="#000" stroke-width="0.06" textLength="7.90" lengthAdjust="spacingAndGlyphs">4</text>
<text id="t55" transform="translate(15.90,742.5) skewX(-12)" font-size="14.6" fill="#000" stroke="#000" stroke-width="0.06" textLength="7.48" lengthAdjust="spacingAndGlyphs">8</text>
<text id="t56" transform="translate(45.97,742.5) skewX(-12)" font-size="14.6" fill="#000" stroke="#000" stroke-width="0.06" textLength="240.80" lengthAdjust="spacingAndGlyphs">Разъем эл. подключения ССИ-135</text>
<text id="t57" transform="translate(351.98,742.5) skewX(-12)" font-size="14.6" fill="#000" stroke="#000" stroke-width="0.06" textLength="23.24" lengthAdjust="spacingAndGlyphs">шт.</text>
<text id="t58" transform="translate(420.96,742.5) skewX(-12)" font-size="14.6" fill="#000" stroke="#000" stroke-width="0.06" textLength="7.48" lengthAdjust="spacingAndGlyphs">1</text>
<text id="t59" transform="translate(15.90,767.5) skewX(-12)" font-size="14.6" fill="#000" stroke="#000" stroke-width="0.06" textLength="7.48" lengthAdjust="spacingAndGlyphs">9</text>
<text id="t60" transform="translate(44.91,767.5) skewX(-12)" font-size="14.6" fill="#000" stroke="#000" stroke-width="0.06" textLength="193.83" lengthAdjust="spacingAndGlyphs">Стол письменный с тумбой</text>
<text id="t61" transform="translate(351.98,767.5) skewX(-12)" font-size="14.6" fill="#000" stroke="#000" stroke-width="0.06" textLength="23.24" lengthAdjust="spacingAndGlyphs">шт.</text>
<text id="t62" transform="translate(420.96,767.5) skewX(-12)" font-size="14.6" fill="#000" stroke="#000" stroke-width="0.06" textLength="7.48" lengthAdjust="spacingAndGlyphs">1</text>
<text id="t63" transform="translate(12.22,792.5) skewX(-12)" font-size="14.6" fill="#000" stroke="#000" stroke-width="0.06" textLength="14.94" lengthAdjust="spacingAndGlyphs">10</text>
<text id="t64" transform="translate(45.97,792.5) skewX(-12)" font-size="14.6" fill="#000" stroke="#000" stroke-width="0.06" textLength="129.53" lengthAdjust="spacingAndGlyphs">Шкаф для одежды</text>
<text id="t65" transform="translate(351.98,792.5) skewX(-12)" font-size="14.6" fill="#000" stroke="#000" stroke-width="0.06" textLength="23.24" lengthAdjust="spacingAndGlyphs">шт.</text>
<text id="t66" transform="translate(420.96,792.5) skewX(-12)" font-size="14.6" fill="#000" stroke="#000" stroke-width="0.06" textLength="7.48" lengthAdjust="spacingAndGlyphs">1</text>
<text id="t67" transform="translate(13.14,817.5) skewX(-12)" font-size="14.6" fill="#000" stroke="#000" stroke-width="0.06" textLength="13.93" lengthAdjust="spacingAndGlyphs">11</text>
<text id="t68" transform="translate(45.96,817.5) skewX(-12)" font-size="14.6" fill="#000" stroke="#000" stroke-width="0.06" textLength="158.33" lengthAdjust="spacingAndGlyphs">Шкаф для документов</text>
<text id="t69" transform="translate(351.98,817.5) skewX(-12)" font-size="14.6" fill="#000" stroke="#000" stroke-width="0.06" textLength="23.24" lengthAdjust="spacingAndGlyphs">шт.</text>
<text id="t70" transform="translate(420.50,817.5) skewX(-12)" font-size="14.6" fill="#000" stroke="#000" stroke-width="0.06" textLength="7.48" lengthAdjust="spacingAndGlyphs">2</text>
<text id="t71" transform="translate(12.22,842.5) skewX(-12)" font-size="14.6" fill="#000" stroke="#000" stroke-width="0.06" textLength="14.94" lengthAdjust="spacingAndGlyphs">12</text>
<text id="t72" transform="translate(45.93,842.5) skewX(-12)" font-size="14.6" fill="#000" stroke="#000" stroke-width="0.06" textLength="275.58" lengthAdjust="spacingAndGlyphs">Окно пластиковое с москитной сеткой</text>
<text id="t73" transform="translate(351.98,842.5) skewX(-12)" font-size="14.6" fill="#000" stroke="#000" stroke-width="0.06" textLength="23.24" lengthAdjust="spacingAndGlyphs">шт.</text>
<text id="t74" transform="translate(420.50,842.5) skewX(-12)" font-size="14.6" fill="#000" stroke="#000" stroke-width="0.06" textLength="7.48" lengthAdjust="spacingAndGlyphs">3</text>
<text id="t75" transform="translate(12.22,867.5) skewX(-12)" font-size="14.6" fill="#000" stroke="#000" stroke-width="0.06" textLength="14.94" lengthAdjust="spacingAndGlyphs">13</text>
<text id="t76" transform="translate(45.96,867.5) skewX(-12)" font-size="14.6" fill="#000" stroke="#000" stroke-width="0.06" textLength="221.30" lengthAdjust="spacingAndGlyphs">Вентилятор вытяжной 125 ВКО</text>
<text id="t77" transform="translate(351.98,867.5) skewX(-12)" font-size="14.6" fill="#000" stroke="#000" stroke-width="0.06" textLength="23.24" lengthAdjust="spacingAndGlyphs">шт.</text>
<text id="t78" transform="translate(420.50,867.5) skewX(-12)" font-size="14.6" fill="#000" stroke="#000" stroke-width="0.06" textLength="7.48" lengthAdjust="spacingAndGlyphs">2</text>
<text id="t79" transform="translate(12.68,892.5) skewX(-12)" font-size="14.6" fill="#000" stroke="#000" stroke-width="0.06" textLength="14.94" lengthAdjust="spacingAndGlyphs">14</text>
<text id="t80" transform="translate(45.95,892.5) skewX(-12)" font-size="14.6" fill="#000" stroke="#000" stroke-width="0.06" textLength="274.05" lengthAdjust="spacingAndGlyphs">Кондиционер оконный Axioma ASJC05</text>
<text id="t81" transform="translate(45.93,916.9) skewX(-12)" font-size="14.6" fill="#000" stroke="#000" stroke-width="0.06" textLength="41.48" lengthAdjust="spacingAndGlyphs">NM1a</text>
<text id="t82" transform="translate(351.98,892.5) skewX(-12)" font-size="14.6" fill="#000" stroke="#000" stroke-width="0.06" textLength="23.24" lengthAdjust="spacingAndGlyphs">шт.</text>
<text id="t83" transform="translate(420.96,892.5) skewX(-12)" font-size="14.6" fill="#000" stroke="#000" stroke-width="0.06" textLength="7.48" lengthAdjust="spacingAndGlyphs">1</text>
<text id="t84" transform="translate(12.22,942.5) skewX(-12)" font-size="14.6" fill="#000" stroke="#000" stroke-width="0.06" textLength="14.94" lengthAdjust="spacingAndGlyphs">15</text>
<text id="t85" transform="translate(44.96,942.5) skewX(-12)" font-size="14.6" fill="#000" stroke="#000" stroke-width="0.06" textLength="101.19" lengthAdjust="spacingAndGlyphs">Стул офисный</text>
<text id="t86" transform="translate(351.98,942.5) skewX(-12)" font-size="14.6" fill="#000" stroke="#000" stroke-width="0.06" textLength="23.24" lengthAdjust="spacingAndGlyphs">шт.</text>
<text id="t87" transform="translate(416.82,942.5) skewX(-12)" font-size="14.6" fill="#000" stroke="#000" stroke-width="0.06" textLength="14.94" lengthAdjust="spacingAndGlyphs">12</text>
<text id="t88" transform="translate(12.22,968.5) skewX(-12)" font-size="14.6" fill="#000" stroke="#000" stroke-width="0.06" textLength="14.94" lengthAdjust="spacingAndGlyphs">16</text>
<text id="t89" transform="translate(45.97,968.5) skewX(-12)" font-size="14.6" fill="#000" stroke="#000" stroke-width="0.06" textLength="202.42" lengthAdjust="spacingAndGlyphs">Эл. Конвектор Engy (1,5 кВт.)</text>
<text id="t90" transform="translate(351.98,968.5) skewX(-12)" font-size="14.6" fill="#000" stroke="#000" stroke-width="0.06" textLength="23.24" lengthAdjust="spacingAndGlyphs">шт.</text>
<text id="t91" transform="translate(420.50,968.5) skewX(-12)" font-size="14.6" fill="#000" stroke="#000" stroke-width="0.06" textLength="7.48" lengthAdjust="spacingAndGlyphs">2</text>
<text id="t92" transform="translate(11.76,993.5) skewX(-12)" font-size="14.6" fill="#000" stroke="#000" stroke-width="0.06" textLength="14.94" lengthAdjust="spacingAndGlyphs">17</text>
<text id="t93" transform="translate(44.91,993.5) skewX(-12)" font-size="14.6" fill="#000" stroke="#000" stroke-width="0.06" textLength="126.89" lengthAdjust="spacingAndGlyphs">Стол письменный</text>
<text id="t94" transform="translate(351.98,993.5) skewX(-12)" font-size="14.6" fill="#000" stroke="#000" stroke-width="0.06" textLength="23.24" lengthAdjust="spacingAndGlyphs">шт.</text>
<text id="t95" transform="translate(420.50,993.5) skewX(-12)" font-size="14.6" fill="#000" stroke="#000" stroke-width="0.06" textLength="7.48" lengthAdjust="spacingAndGlyphs">3</text>
<text id="t96" transform="translate(12.22,1018.5) skewX(-12)" font-size="14.6" fill="#000" stroke="#000" stroke-width="0.06" textLength="14.94" lengthAdjust="spacingAndGlyphs">18</text>
<text id="t97" transform="translate(45.97,1018.5) skewX(-12)" font-size="14.6" fill="#000" stroke="#000" stroke-width="0.06" textLength="151.23" lengthAdjust="spacingAndGlyphs">Кресло офисное ИЗО</text>
<text id="t98" transform="translate(351.98,1018.5) skewX(-12)" font-size="14.6" fill="#000" stroke="#000" stroke-width="0.06" textLength="23.24" lengthAdjust="spacingAndGlyphs">шт.</text>
<text id="t99" transform="translate(420.96,1018.5) skewX(-12)" font-size="14.6" fill="#000" stroke="#000" stroke-width="0.06" textLength="7.48" lengthAdjust="spacingAndGlyphs">1</text>
<text id="t100" transform="translate(12.22,1043.5) skewX(-12)" font-size="14.6" fill="#000" stroke="#000" stroke-width="0.06" textLength="14.94" lengthAdjust="spacingAndGlyphs">19</text>
<text id="t101" transform="translate(45.03,1043.5) skewX(-12)" font-size="14.6" fill="#000" stroke="#000" stroke-width="0.06" textLength="58.77" lengthAdjust="spacingAndGlyphs">Стеллаж</text>
<text id="t102" transform="translate(351.98,1043.5) skewX(-12)" font-size="14.6" fill="#000" stroke="#000" stroke-width="0.06" textLength="23.24" lengthAdjust="spacingAndGlyphs">шт.</text>
<text id="t103" transform="translate(420.96,1043.5) skewX(-12)" font-size="14.6" fill="#000" stroke="#000" stroke-width="0.06" textLength="7.48" lengthAdjust="spacingAndGlyphs">1</text>
<text id="t104" transform="translate(12.22,1068.5) skewX(-12)" font-size="14.6" fill="#000" stroke="#000" stroke-width="0.06" textLength="14.94" lengthAdjust="spacingAndGlyphs">20</text>
<text id="t105" transform="translate(44.96,1068.5) skewX(-12)" font-size="14.6" fill="#000" stroke="#000" stroke-width="0.06" textLength="116.47" lengthAdjust="spacingAndGlyphs">Табло «ВЫХОД»</text>
<text id="t106" transform="translate(351.98,1068.5) skewX(-12)" font-size="14.6" fill="#000" stroke="#000" stroke-width="0.06" textLength="23.24" lengthAdjust="spacingAndGlyphs">шт.</text>
<text id="t107" transform="translate(420.96,1068.5) skewX(-12)" font-size="14.6" fill="#000" stroke="#000" stroke-width="0.06" textLength="7.48" lengthAdjust="spacingAndGlyphs">1</text>
<text id="t108" transform="translate(536.53,897.7) skewX(-12)" font-size="20.3" fill="#000" stroke="#000" stroke-width="0.06" textLength="177.94" lengthAdjust="spacingAndGlyphs">Дополнительная</text>
<text id="t109" transform="translate(549.84,925.2) skewX(-12)" font-size="20.3" fill="#000" stroke="#000" stroke-width="0.06" textLength="152.31" lengthAdjust="spacingAndGlyphs">комплектация</text>
<text id="t110" transform="translate(480.58,959) skewX(-12)" font-size="15.6" fill="#000" stroke="#000" stroke-width="0.06" textLength="18.07" lengthAdjust="spacingAndGlyphs">№</text>
<text id="t111" transform="translate(513.29,959) skewX(-12)" font-size="15.6" fill="#000" stroke="#000" stroke-width="0.06" textLength="119.89" lengthAdjust="spacingAndGlyphs">Наименование</text>
<text id="t112" transform="translate(665.91,959) skewX(-12)" font-size="15.6" fill="#000" stroke="#000" stroke-width="0.06" textLength="23.52" lengthAdjust="spacingAndGlyphs">Ед.</text>
<text id="t113" transform="translate(660.02,985.7) skewX(-12)" font-size="15.6" fill="#000" stroke="#000" stroke-width="0.06" textLength="36.57" lengthAdjust="spacingAndGlyphs">изм.</text>
<text id="t114" transform="translate(720.63,959) skewX(-12)" font-size="15.6" fill="#000" stroke="#000" stroke-width="0.06" textLength="56.57" lengthAdjust="spacingAndGlyphs">Кол-во</text>
<text id="t115" transform="translate(484.82,1012) skewX(-12)" font-size="15.6" fill="#000" stroke="#000" stroke-width="0.06" textLength="5.62" lengthAdjust="spacingAndGlyphs">-</text>
<text id="t116" transform="translate(511.51,1012) skewX(-12)" font-size="15.6" fill="#000" stroke="#000" stroke-width="0.06" textLength="48.34" lengthAdjust="spacingAndGlyphs">Замок</text>
<text id="t117" transform="translate(511.48,1040.6) skewX(-12)" font-size="15.6" fill="#000" stroke="#000" stroke-width="0.06" textLength="75.73" lengthAdjust="spacingAndGlyphs">навесной</text>
<text id="t118" transform="translate(665.86,1012) skewX(-12)" font-size="15.6" fill="#000" stroke="#000" stroke-width="0.06" textLength="25.38" lengthAdjust="spacingAndGlyphs">шт.</text>
<text id="t119" transform="translate(744.83,1012) skewX(-12)" font-size="15.6" fill="#000" stroke="#000" stroke-width="0.06" textLength="8.44" lengthAdjust="spacingAndGlyphs">1</text>
<text id="t120" transform="translate(484.82,1067) skewX(-12)" font-size="15.6" fill="#000" stroke="#000" stroke-width="0.06" textLength="5.62" lengthAdjust="spacingAndGlyphs">-</text>
<text id="t121" transform="translate(512.10,1067) skewX(-12)" font-size="15.6" fill="#000" stroke="#000" stroke-width="0.06" textLength="65.52" lengthAdjust="spacingAndGlyphs">Аптечка</text>
<text id="t122" transform="translate(665.86,1067) skewX(-12)" font-size="15.6" fill="#000" stroke="#000" stroke-width="0.06" textLength="25.38" lengthAdjust="spacingAndGlyphs">шт.</text>
<text id="t123" transform="translate(744.83,1067) skewX(-12)" font-size="15.6" fill="#000" stroke="#000" stroke-width="0.06" textLength="8.44" lengthAdjust="spacingAndGlyphs">1</text>
<text id="t124" transform="translate(872.67,511.4) skewX(-12)" font-size="15.1" fill="#000" stroke="#000" stroke-width="0.06" textLength="547.17" lengthAdjust="spacingAndGlyphs">*Кол-во розеток соответствует кол-ву эл. приборов, включенных</text>
<text id="t125" transform="translate(873.91,534.5) skewX(-12)" font-size="15.1" fill="#000" stroke="#000" stroke-width="0.06" textLength="234.74" lengthAdjust="spacingAndGlyphs">в комплектацию вагон-дома</text>
<text id="t126" transform="translate(872.79,556.7) skewX(-12)" font-size="15.1" fill="#000" stroke="#000" stroke-width="0.06" textLength="312.52" lengthAdjust="spacingAndGlyphs">*Раскраска вагона по эскизу заказчика</text>
<text id="t127" transform="translate(872.69,578.9) skewX(-12)" font-size="15.1" fill="#000" stroke="#000" stroke-width="0.06" textLength="521.06" lengthAdjust="spacingAndGlyphs">*Предусмотрена принудительная и естественная вентиляция</text>
<text id="t128" transform="translate(873.98,601.6) skewX(-12)" font-size="15.1" fill="#000" stroke="#000" stroke-width="0.06" textLength="90.64" lengthAdjust="spacingAndGlyphs">помещения</text>
<text id="t129" transform="translate(872.76,623.8) skewX(-12)" font-size="15.1" fill="#000" stroke="#000" stroke-width="0.06" textLength="554.57" lengthAdjust="spacingAndGlyphs">*Предусмотрена система пожарооповещения с блоком управления</text>
<text id="t130" transform="translate(873.93,645.4) skewX(-12)" font-size="15.1" fill="#000" stroke="#000" stroke-width="0.06" textLength="366.54" lengthAdjust="spacingAndGlyphs">«КВАРЦ» и свето-звуковыми извещателями.</text>
<text id="t131" transform="translate(792.45,779.5) skewX(-12)" font-size="15.6" fill="#000" stroke="#000" stroke-width="0.06" textLength="247.89" lengthAdjust="spacingAndGlyphs">СОГЛАСОВАНО С ЗАКАЗЧИКОМ</text>
<text id="t132" transform="translate(859.68,817) skewX(-12)" font-size="15.6" fill="#000" stroke="#000" stroke-width="0.06" textLength="37.37" lengthAdjust="spacingAndGlyphs">ФИО</text>
<text id="t133" transform="translate(1003.93,817.5) skewX(-12)" font-size="15.6" fill="#000" stroke="#000" stroke-width="0.06" textLength="96.70" lengthAdjust="spacingAndGlyphs">Должность</text>
<text id="t134" transform="translate(1202.67,818.3) skewX(-12)" font-size="15.6" fill="#000" stroke="#000" stroke-width="0.06" textLength="43.84" lengthAdjust="spacingAndGlyphs">Дата</text>
<text id="t135" transform="translate(1363.23,818.3) skewX(-12)" font-size="15.6" fill="#000" stroke="#000" stroke-width="0.06" textLength="66.16" lengthAdjust="spacingAndGlyphs">Подпись</text>
<text id="t136" transform="translate(801.44,957.9)" font-size="9.2" fill="#000" stroke="#000" stroke-width="0.06" textLength="22.75" lengthAdjust="spacingAndGlyphs">Изм.</text>
<text id="t137" transform="translate(840.00,957.9)" font-size="9.2" fill="#000" stroke="#000" stroke-width="0.06" textLength="20.67" lengthAdjust="spacingAndGlyphs">Лист</text>
<text id="t138" transform="translate(882.97,957.9)" font-size="9.2" fill="#000" stroke="#000" stroke-width="0.06" textLength="45.45" lengthAdjust="spacingAndGlyphs">№ докум.</text>
<text id="t139" transform="translate(951.41,957.9)" font-size="9.2" fill="#000" stroke="#000" stroke-width="0.06" textLength="39.70" lengthAdjust="spacingAndGlyphs">Подпись</text>
<text id="t140" transform="translate(1007.90,957.9)" font-size="9.2" fill="#000" stroke="#000" stroke-width="0.06" textLength="21.07" lengthAdjust="spacingAndGlyphs">Дата</text>
<text id="t141" transform="translate(807.16,977.1)" font-size="9.2" fill="#000" stroke="#000" stroke-width="0.06" textLength="52.06" lengthAdjust="spacingAndGlyphs">Разработал</text>
<text id="t142" transform="translate(810.40,995.2)" font-size="9.2" fill="#000" stroke="#000" stroke-width="0.06" textLength="46.46" lengthAdjust="spacingAndGlyphs">Проверил</text>
<text id="t143" transform="translate(807.80,1013.8)" font-size="9.2" fill="#000" stroke="#000" stroke-width="0.06" textLength="52.62" lengthAdjust="spacingAndGlyphs">Т. контроль</text>
<text id="t144" transform="translate(806.31,1051.8)" font-size="9.2" fill="#000" stroke="#000" stroke-width="0.06" textLength="55.05" lengthAdjust="spacingAndGlyphs">Н. контроль</text>
<text id="t145" transform="translate(812.00,1070.9)" font-size="9.2" fill="#000" stroke="#000" stroke-width="0.06" textLength="43.23" lengthAdjust="spacingAndGlyphs">Утвердил</text>
<text id="t146" transform="translate(1142.57,979.2) skewX(-12)" font-size="11.5" fill="#000" stroke="#000" stroke-width="0.06" textLength="62.68" lengthAdjust="spacingAndGlyphs">Вагон-дом</text>
<text id="t147" transform="translate(1125.64,995.2) skewX(-12)" font-size="11.5" fill="#000" stroke="#000" stroke-width="0.06" textLength="89.50" lengthAdjust="spacingAndGlyphs">(2,4х8м) Офис</text>
<text id="t148" transform="translate(1107.43,1053.6)" font-size="16.3" fill="#000" stroke="#000" stroke-width="0.06" textLength="119.63" lengthAdjust="spacingAndGlyphs">ОБЩАЯ СХЕМА</text>
<text id="t149" transform="translate(1318.30,976.8)" font-size="9.2" fill="#000" stroke="#000" stroke-width="0.06" textLength="17.02" lengthAdjust="spacingAndGlyphs">Лит</text>
<text id="t150" transform="translate(1366.91,976.8)" font-size="9.2" fill="#000" stroke="#000" stroke-width="0.06" textLength="29.58" lengthAdjust="spacingAndGlyphs">Масса</text>
<text id="t151" transform="translate(1425.90,976.8)" font-size="9.2" fill="#000" stroke="#000" stroke-width="0.06" textLength="43.35" lengthAdjust="spacingAndGlyphs">Масштаб</text>
<text id="t152" transform="translate(1436.94,1004.4)" font-size="9.2" fill="#000" stroke="#000" stroke-width="0.06" textLength="20.73" lengthAdjust="spacingAndGlyphs">1:35</text>
<text id="t153" transform="translate(1351.10,1044.4)" font-size="13" fill="#000" stroke="#000" stroke-width="0.06" textLength="82.21" lengthAdjust="spacingAndGlyphs">ООО «ЛЕОН»</text>
<text id="t154" transform="translate(1356.31,1061.3)" font-size="13" fill="#000" stroke="#000" stroke-width="0.06" textLength="70.26" lengthAdjust="spacingAndGlyphs">Г. ТЮМЕНЬ</text>
<text id="t155" transform="translate(979.59,103.5) skewX(-12)" font-size="12.8" fill="#000" stroke="#000" stroke-width="0.06" textLength="31.71" lengthAdjust="spacingAndGlyphs">8000</text>
<text id="t156" transform="translate(952.73,150.6) skewX(-12)" font-size="11.3" fill="#000" stroke="#000" stroke-width="0.06" textLength="13.38" lengthAdjust="spacingAndGlyphs">12</text>
<text id="t157" transform="translate(974.34,150.6) skewX(-12)" font-size="11.3" fill="#000" stroke="#000" stroke-width="0.06" textLength="13.55" lengthAdjust="spacingAndGlyphs">13</text>
<text id="t158" transform="translate(940.63,181.5) skewX(-12)" font-size="11.3" fill="#000" stroke="#000" stroke-width="0.06" textLength="13.38" lengthAdjust="spacingAndGlyphs">16</text>
<text id="t159" transform="translate(677.78,232.7) skewX(-12)" font-size="11.3" fill="#000" stroke="#000" stroke-width="0.06" textLength="12.76" lengthAdjust="spacingAndGlyphs">12</text>
<text id="t160" transform="translate(674.93,252.6) skewX(-12)" font-size="11.3" fill="#000" stroke="#000" stroke-width="0.06" textLength="13.38" lengthAdjust="spacingAndGlyphs">13</text>
<text id="t161" transform="translate(716.52,256.4) skewX(-12)" font-size="11.3" fill="#000" stroke="#000" stroke-width="0.06" textLength="13.49" lengthAdjust="spacingAndGlyphs">16</text>
<text id="t162" transform="translate(963.22,354.5) skewX(-12)" font-size="11.3" fill="#000" stroke="#000" stroke-width="0.06" textLength="12.34" lengthAdjust="spacingAndGlyphs">12</text>
<text id="t163" transform="translate(1239.93,254.6) skewX(-12)" font-size="11.3" fill="#000" stroke="#000" stroke-width="0.06" textLength="13.38" lengthAdjust="spacingAndGlyphs">20</text>
<text id="t164" transform="translate(1181.47,352.5) skewX(-12)" font-size="11.3" fill="#000" stroke="#000" stroke-width="0.06" textLength="6.78" lengthAdjust="spacingAndGlyphs">1</text>
<text id="t165" transform="translate(714.42,186.4) skewX(-12)" font-size="11.3" fill="#000" stroke="#000" stroke-width="0.06" textLength="12.65" lengthAdjust="spacingAndGlyphs">11</text>
<text id="t166" transform="translate(832.08,254.2) skewX(-12)" font-size="11.3" fill="#000" stroke="#000" stroke-width="0.06" textLength="6.78" lengthAdjust="spacingAndGlyphs">9</text>
<text id="t167" transform="translate(794.94,256.4) skewX(-12)" font-size="11.3" fill="#000" stroke="#000" stroke-width="0.06" textLength="13.55" lengthAdjust="spacingAndGlyphs">18</text>
<text id="t168" transform="translate(874.78,263.5) skewX(-12)" font-size="11.3" fill="#000" stroke="#000" stroke-width="0.06" textLength="12.74" lengthAdjust="spacingAndGlyphs">17</text>
<text id="t169" transform="translate(991.28,266) skewX(-12)" font-size="11.3" fill="#000" stroke="#000" stroke-width="0.06" textLength="12.84" lengthAdjust="spacingAndGlyphs">17</text>
<text id="t170" transform="translate(1067.55,268.8) skewX(-12)" font-size="11.3" fill="#000" stroke="#000" stroke-width="0.06" textLength="13.22" lengthAdjust="spacingAndGlyphs">17</text>
<text id="t171" transform="translate(876.54,216) skewX(-12)" font-size="11.3" fill="#000" stroke="#000" stroke-width="0.06" textLength="13.28" lengthAdjust="spacingAndGlyphs">15</text>
<text id="t172" transform="translate(914.55,216.8) skewX(-12)" font-size="11.3" fill="#000" stroke="#000" stroke-width="0.06" textLength="13.17" lengthAdjust="spacingAndGlyphs">15</text>
<text id="t173" transform="translate(968.59,217.7) skewX(-12)" font-size="11.3" fill="#000" stroke="#000" stroke-width="0.06" textLength="13.55" lengthAdjust="spacingAndGlyphs">15</text>
<text id="t174" transform="translate(1010.29,217.7) skewX(-12)" font-size="11.3" fill="#000" stroke="#000" stroke-width="0.06" textLength="13.55" lengthAdjust="spacingAndGlyphs">15</text>
<text id="t175" transform="translate(1059.42,221.4) skewX(-12)" font-size="11.3" fill="#000" stroke="#000" stroke-width="0.06" textLength="13.49" lengthAdjust="spacingAndGlyphs">15</text>
<text id="t176" transform="translate(1101.24,221.4) skewX(-12)" font-size="11.3" fill="#000" stroke="#000" stroke-width="0.06" textLength="13.55" lengthAdjust="spacingAndGlyphs">15</text>
<text id="t177" transform="translate(876.52,289.6) skewX(-12)" font-size="11.3" fill="#000" stroke="#000" stroke-width="0.06" textLength="13.49" lengthAdjust="spacingAndGlyphs">15</text>
<text id="t178" transform="translate(914.43,290.6) skewX(-12)" font-size="11.3" fill="#000" stroke="#000" stroke-width="0.06" textLength="13.49" lengthAdjust="spacingAndGlyphs">15</text>
<text id="t179" transform="translate(968.59,291.5) skewX(-12)" font-size="11.3" fill="#000" stroke="#000" stroke-width="0.06" textLength="13.55" lengthAdjust="spacingAndGlyphs">15</text>
<text id="t180" transform="translate(1010.29,291.5) skewX(-12)" font-size="11.3" fill="#000" stroke="#000" stroke-width="0.06" textLength="13.55" lengthAdjust="spacingAndGlyphs">15</text>
<text id="t181" transform="translate(1059.42,293.4) skewX(-12)" font-size="11.3" fill="#000" stroke="#000" stroke-width="0.06" textLength="13.49" lengthAdjust="spacingAndGlyphs">15</text>
<text id="t182" transform="translate(1101.24,293.4) skewX(-12)" font-size="11.3" fill="#000" stroke="#000" stroke-width="0.06" textLength="13.55" lengthAdjust="spacingAndGlyphs">15</text>
<text id="t183" transform="translate(915.84,326.5) skewX(-12)" font-size="11.3" fill="#000" stroke="#000" stroke-width="0.06" textLength="13.55" lengthAdjust="spacingAndGlyphs">14</text>
<text id="t184" transform="translate(1005.43,320) skewX(-12)" font-size="11.3" fill="#000" stroke="#000" stroke-width="0.06" textLength="6.78" lengthAdjust="spacingAndGlyphs">9</text>
<text id="t185" transform="translate(1156.09,324) skewX(-12)" font-size="11.3" fill="#000" stroke="#000" stroke-width="0.06" textLength="13.55" lengthAdjust="spacingAndGlyphs">19</text>
<text id="t186" transform="translate(1201.47,187.2) skewX(-12)" font-size="11.3" fill="#000" stroke="#000" stroke-width="0.06" textLength="12.65" lengthAdjust="spacingAndGlyphs">11</text>
<text id="t187" transform="translate(1247.89,188.5) skewX(-12)" font-size="11.3" fill="#000" stroke="#000" stroke-width="0.06" textLength="13.55" lengthAdjust="spacingAndGlyphs">10</text>
<text id="t188" transform="translate(1238.89,220.7) skewX(-12)" font-size="10" fill="#000" stroke="#000" stroke-width="0.06" textLength="5.12" lengthAdjust="spacingAndGlyphs">2</text>
<text id="t189" transform="translate(758.55,258.3) skewX(-12)" font-size="11.3" fill="#000" stroke="#000" stroke-width="0.06" textLength="6.59" lengthAdjust="spacingAndGlyphs">6</text>
<text id="t190" transform="translate(779.74,258) skewX(-12)" font-size="11.3" fill="#000" stroke="#000" stroke-width="0.06" textLength="6.78" lengthAdjust="spacingAndGlyphs">7</text>
<text id="t191" transform="translate(933.43,254.6) skewX(-12)" font-size="11.3" fill="#000" stroke="#000" stroke-width="0.06" textLength="6.78" lengthAdjust="spacingAndGlyphs">6</text>
<text id="t192" transform="translate(955.54,254.6) skewX(-12)" font-size="11.3" fill="#000" stroke="#000" stroke-width="0.06" textLength="6.78" lengthAdjust="spacingAndGlyphs">7</text>
<text id="t193" transform="translate(1115.40,254.6) skewX(-12)" font-size="11.3" fill="#000" stroke="#000" stroke-width="0.06" textLength="6.27" lengthAdjust="spacingAndGlyphs">6</text>
<text id="t194" transform="translate(1211.97,295) skewX(-12)" font-size="11.3" fill="#000" stroke="#000" stroke-width="0.06" textLength="6.78" lengthAdjust="spacingAndGlyphs">4</text>
<text id="t195" transform="translate(1209.53,325) skewX(-12)" font-size="11.3" fill="#000" stroke="#000" stroke-width="0.06" textLength="6.06" lengthAdjust="spacingAndGlyphs">5</text>
<text id="t196" transform="translate(1222.84,313.2) skewX(-12)" font-size="11.3" fill="#000" stroke="#000" stroke-width="0.06" textLength="6.78" lengthAdjust="spacingAndGlyphs">7</text>
<text id="t197" transform="translate(1238.83,313) skewX(-12)" font-size="11.3" fill="#000" stroke="#000" stroke-width="0.06" textLength="6.06" lengthAdjust="spacingAndGlyphs">6</text>
<text id="t198" transform="translate(1259.49,313.2) skewX(-12)" font-size="11.3" fill="#000" stroke="#000" stroke-width="0.06" textLength="6.78" lengthAdjust="spacingAndGlyphs">7</text>
<text id="t199" transform="translate(1267.47,292) skewX(-12)" font-size="11.3" fill="#000" stroke="#000" stroke-width="0.06" textLength="5.77" lengthAdjust="spacingAndGlyphs">2</text>
<text id="t200" transform="translate(1264.98,323.2) skewX(-12)" font-size="11.3" fill="#000" stroke="#000" stroke-width="0.06" textLength="6.78" lengthAdjust="spacingAndGlyphs">3</text>
<text id="t201" transform="translate(1313.13,321.4) skewX(-12)" font-size="11.3" fill="#000" stroke="#000" stroke-width="0.06" textLength="6.69" lengthAdjust="spacingAndGlyphs">8</text>
<text id="t202" transform="translate(1236.99,326.7) skewX(-12)" font-size="10" fill="#000" stroke="#000" stroke-width="0.06" textLength="5.12" lengthAdjust="spacingAndGlyphs">1</text>
</svg></body></html>
